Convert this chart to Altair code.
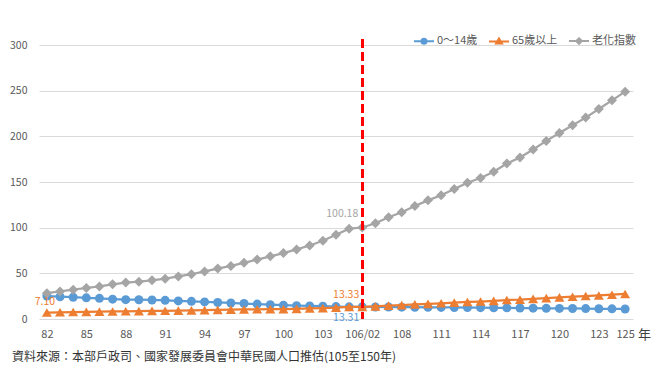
import altair as alt
import pandas as pd

# ---- data -------------------------------------------------------------
periods = ["82", "83", "84", "85", "86", "87", "88", "89", "90", "91", "92", "93",
           "94", "95", "96", "97", "98", "99", "100", "101", "102", "103", "104", "105",
           "106/02",
           "106", "107", "108", "109", "110", "111", "112", "113", "114", "115", "116",
           "117", "118", "119", "120", "121", "122", "123", "124", "125"]

child_share = [25.14, 24.42, 23.85, 23.15, 22.60, 21.76, 21.16, 21.11, 20.81, 20.42,
               19.83, 19.34, 18.71, 18.12, 17.56, 16.95, 16.34, 15.65, 15.08, 14.63,
               14.32, 13.99, 13.57, 13.35, 13.31,
               13.2, 13.1, 13.0, 12.9, 12.8, 12.7, 12.6, 12.5, 12.4, 12.3,
               12.2, 12.0, 11.9, 11.7, 11.6, 11.5, 11.4, 11.2, 11.1, 11.0]

elderly_share = [7.10, 7.38, 7.64, 7.86, 8.06, 8.26, 8.44, 8.62, 8.81, 9.02,
                 9.24, 9.48, 9.74, 10.00, 10.21, 10.43, 10.63, 10.74, 10.89, 11.15,
                 11.53, 11.99, 12.51, 13.20, 13.33,
                 13.83, 14.59, 15.18, 15.96, 16.63, 17.20, 17.93, 18.65, 19.13, 19.83,
                 20.78, 21.23, 22.09, 22.82, 23.63, 24.39, 25.14, 25.75, 26.57, 27.38]

aging_index = [28.24, 30.22, 32.04, 33.95, 35.67, 37.96, 39.89, 40.84, 42.33, 44.17,
               46.57, 49.02, 52.05, 55.17, 58.13, 61.51, 65.05, 68.64, 72.20, 76.21,
               80.51, 85.70, 92.18, 98.86, 100.18,
               104.8, 111.4, 116.8, 123.7, 129.9, 135.4, 142.3, 149.2, 154.3, 161.2,
               170.3, 176.9, 185.6, 195.0, 203.7, 212.1, 220.5, 229.9, 239.4, 248.9]

tick_labels = ["82", "85", "88", "91", "94", "97", "100", "103", "106/02", "108",
               "111", "114", "117", "120", "123", "125"]
y_ticks = [0, 50, 100, 150, 200, 250, 300]

series_names = ["0～14歲", "65歲以上", "老化指數"]
series_values = [child_share, elderly_share, aging_index]
series_colors = ["#5B9BD5", "#ED7D31", "#A5A5A5"]
marker_shapes = ["circle", "triangle-up", "diamond"]
marker_sizes = [81, 100, 100]
legend_paths = [
    "M-1,0L1,0M-0.25,0A0.25,0.25,0,1,0,0.25,0A0.25,0.25,0,1,0,-0.25,0Z",
    "M-1,0L1,0M0,-0.3L0.3,0.22L-0.3,0.22Z",
    "M-1,0L1,0M0,-0.28L0.28,0L0,0.28L-0.28,0Z",
]

# callouts: (period, series, text, color, align, dx, dy)
callouts = [
    ("82", "65歲以上", "7.10", "#ED7D31", "center", -2, -11),
    ("106/02", "老化指數", "100.18", "#A5A5A5", "right", -4, -14),
    ("106/02", "65歲以上", "13.33", "#ED7D31", "right", -3, -12),
    ("106/02", "0～14歲", "13.31", "#5B9BD5", "right", -3, 11),
]
marker_period = "106/02"
source_text = "資料來源：本部戶政司、國家發展委員會中華民國人口推估(105至150年)"

rows = []
for name, vals in zip(series_names, series_values):
    for p, v in zip(periods, vals):
        rows.append({"period": p, "series": name, "value": v})
df = pd.DataFrame(rows)

FONT = "Noto Sans CJK TC"
W, H = 594, 274


def x_enc():
    return alt.X(
        "period:O", sort=periods,
        scale=alt.Scale(type="point", padding=0.6),
        axis=alt.Axis(values=tick_labels, labelAngle=0, ticks=False, domain=False,
                      grid=False, labelPadding=9, labelFontSize=11,
                      labelColor="#595959", labelOverlap=False,
                      title="年", titleX=605, titleY=15, titleAlign="center",
                      titleBaseline="middle", titleFontSize=13,
                      titleFontWeight="normal", titleColor="#404040"),
    )


def y_enc():
    return alt.Y(
        "value:Q",
        scale=alt.Scale(domain=[0, 300], nice=False, zero=True),
        axis=alt.Axis(values=y_ticks, ticks=False, domain=False, grid=True,
                      gridColor="#D9D9D9", gridWidth=1, labelPadding=12,
                      labelFontSize=10.5, labelColor="#595959", title=None),
    )


layers = []
for name, color, shp, sz in zip(series_names, series_colors, marker_shapes, marker_sizes):
    layers.append(
        alt.Chart(df).transform_filter(alt.datum.series == name)
        .mark_line(color=color, strokeWidth=2.25,
                   point=alt.OverlayMarkDef(shape=shp, size=sz, filled=True,
                                            color=color, opacity=1))
        .encode(x=x_enc(), y=y_enc())
    )

# legend-only layer (no data drawn)
legend_layer = (
    alt.Chart(df).transform_filter("false")
    .mark_point(filled=True, strokeWidth=2, opacity=1)
    .encode(
        fill=alt.Fill("series:N", title=None,
                      scale=alt.Scale(domain=series_names, range=series_colors)),
        stroke=alt.Stroke("series:N", title=None,
                          scale=alt.Scale(domain=series_names, range=series_colors)),
        shape=alt.Shape("series:N", title=None,
                        scale=alt.Scale(domain=series_names, range=legend_paths)),
    )
)
layers.append(legend_layer)

# callout labels
for per, ser, txt, col, al, dx, dy in callouts:
    layers.append(
        alt.Chart(df).transform_filter(
            (alt.datum.series == ser) & (alt.datum.period == per))
        .mark_text(color=col, fontSize=10.5, align=al, baseline="middle", dx=dx, dy=dy)
        .encode(x=x_enc(), y=y_enc(), text=alt.value(txt))
    )

# red dashed marker line
rule = (
    alt.Chart(df).mark_rule(color="#FF0000", strokeWidth=2.5, strokeDash=[8, 5])
    .encode(x=alt.datum(marker_period), y=alt.datum(306), y2=alt.datum(0))
)
layers.append(rule)

# source note
note = (
    alt.Chart(df).transform_filter(alt.datum.period == "82")
    .transform_filter(alt.datum.series == "0～14歲")
    .mark_text(align="left", baseline="middle", fontSize=12, color="#333333")
    .encode(x=alt.value(-27), y=alt.value(312), text=alt.value(source_text))
)
layers.append(note)

chart = (
    alt.layer(*layers)
    .properties(width=W, height=H, autosize=alt.AutoSizeParams(type="none"),
                padding={"left": 31, "top": 37, "right": 19, "bottom": 47})
    .configure(font=FONT)
    .configure_view(stroke=None)
    .configure_legend(orient="none", legendX=374, legendY=-15, direction="horizontal",
                      symbolSize=400, symbolStrokeWidth=2, labelFontSize=11,
                      labelColor="#595959", labelOffset=2, columnPadding=7,
                      labelFont=FONT)
)

chart.save("out.html", embed_options={"renderer": "svg", "actions": False})
